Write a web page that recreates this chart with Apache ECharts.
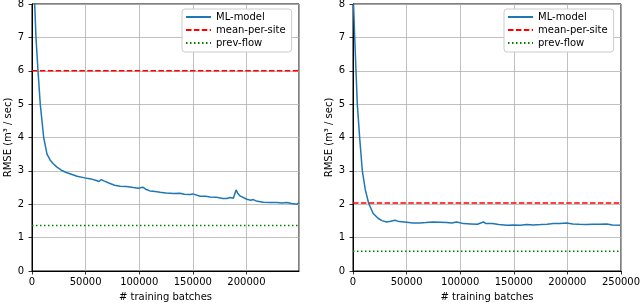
<!DOCTYPE html>
<html>
<head>
<meta charset="utf-8">
<script src="https://cdn.jsdelivr.net/npm/echarts@6/dist/echarts.min.js"></script>
<style>html,body{margin:0;padding:0;background:#fff}#c{width:640px;height:304px}</style>
</head>
<body>
<div id="c"></div>
<script>
// ---- data ----
const seriesNames = ['ML-model', 'mean-per-site', 'prev-flow'];
const yTicks = [0, 1, 2, 3, 4, 5, 6, 7, 8];
const xTickStep = 50000;
const leftXRange = [0, 249000];
const rightXRange = [0, 250000];

const leftSteps = [1000, 2500, 3700, 5600, 7700, 10900, 14000, 17000, 19600, 23000, 27300, 32000, 36700, 42000, 49200, 55000, 60000, 62500, 64600, 67000, 72800, 77000, 82100, 88000, 94500, 96000, 99200, 103300, 106000, 110000, 115000, 119400, 125000, 131800, 138000, 142000, 147400, 150000, 156700, 162000, 166000, 172000, 178000, 181600, 185000, 186300, 187800, 190300, 192000, 194000, 200300, 204000, 206400, 209000, 215700, 222000, 228300, 233000, 237600, 242000, 246900, 249000];
const leftRmse = [9.3, 8.0, 7.0, 6.0, 5.0, 4.0, 3.5, 3.32, 3.22, 3.12, 3.02, 2.95, 2.90, 2.84, 2.79, 2.76, 2.71, 2.68, 2.74, 2.70, 2.62, 2.57, 2.54, 2.53, 2.50, 2.54, 2.48, 2.51, 2.45, 2.40, 2.38, 2.36, 2.34, 2.32, 2.33, 2.30, 2.29, 2.31, 2.24, 2.24, 2.22, 2.21, 2.17, 2.17, 2.20, 2.25, 2.18, 2.43, 2.32, 2.25, 2.15, 2.12, 2.14, 2.10, 2.06, 2.05, 2.05, 2.04, 2.05, 2.02, 2.00, 2.04];
const leftMeanPerSite = 6.0;
const leftPrevFlow = 1.36;

const rightSteps = [500, 1600, 2800, 4000, 6200, 8700, 11500, 14600, 18700, 23300, 27000, 31400, 35000, 39200, 43000, 50000, 56000, 62500, 68000, 74900, 81000, 87400, 92000, 96700, 103000, 110000, 116000, 121600, 124000, 130000, 136000, 143400, 150000, 156000, 162000, 168000, 175000, 181000, 186900, 193000, 199300, 205000, 211000, 218000, 224000, 230000, 236700, 242000, 249100];
const rightRmse = [8.0, 7.0, 6.0, 5.0, 4.0, 3.0, 2.43, 2.03, 1.73, 1.58, 1.51, 1.47, 1.49, 1.52, 1.48, 1.46, 1.44, 1.44, 1.45, 1.47, 1.46, 1.45, 1.44, 1.47, 1.42, 1.41, 1.40, 1.47, 1.42, 1.42, 1.39, 1.37, 1.38, 1.37, 1.39, 1.38, 1.39, 1.40, 1.42, 1.42, 1.44, 1.41, 1.40, 1.39, 1.40, 1.40, 1.41, 1.38, 1.37];
const rightMeanPerSite = 2.04;
const rightPrevFlow = 0.59;

const xName = '# training batches';
const yName = 'RMSE (m³ / sec)';

// ---- styles ----
const FONT = 'DejaVu Sans';
const blue = '#1f77b4', red = '#ff0000', green = '#008000';
const zip = (xs, ys) => xs.map((x, i) => [x, ys[i]]);
const hline = (range, v) => [[range[0], v], [range[1], v]];

function makeX(idx, range, showMax) {
  return {
    type: 'value', gridIndex: idx, min: range[0], max: range[1], interval: xTickStep,
    name: xName, nameLocation: 'middle', nameGap: 21,
    nameTextStyle: { fontFamily: FONT, fontSize: 10, color: '#000' },
    axisLine: { show: true, onZero: false, lineStyle: { color: '#000', width: 1 } },
    axisTick: { show: true, length: 3.5, lineStyle: { color: '#000', width: 0.8 } },
    axisLabel: { fontFamily: FONT, fontSize: 10, color: '#000', margin: 6, showMaxLabel: showMax, showMinLabel: true,
      formatter: v => String(v) },
    splitLine: { show: true, lineStyle: { color: '#b0b0b0', width: 0.8 } }
  };
}
function makeY(idx) {
  return {
    type: 'value', gridIndex: idx, min: yTicks[0], max: yTicks[yTicks.length - 1], interval: yTicks[1] - yTicks[0],
    name: yName, nameLocation: 'middle', nameGap: 18, nameRotate: 90,
    nameTextStyle: { fontFamily: FONT, fontSize: 10, color: '#000' },
    axisLine: { show: true, onZero: false, lineStyle: { color: '#000', width: 1 } },
    axisTick: { show: true, length: 3.5, lineStyle: { color: '#000', width: 0.8 } },
    axisLabel: { fontFamily: FONT, fontSize: 10, color: '#000', margin: 8 },
    splitLine: { show: true, lineStyle: { color: '#b0b0b0', width: 0.8 } }
  };
}
function makeSeries(idx, steps, rmse, range, mean, prev) {
  return [
    { name: seriesNames[0], type: 'line', xAxisIndex: idx, yAxisIndex: idx, data: zip(steps, rmse),
      symbol: 'none', lineStyle: { color: blue, width: 1.5 }, itemStyle: { color: blue }, z: 5, animation: false },
    { name: seriesNames[1], type: 'line', xAxisIndex: idx, yAxisIndex: idx, data: hline(range, mean),
      symbol: 'none', lineStyle: { color: red, width: 1.5, type: [5.5, 2.4] }, itemStyle: { color: red }, z: 4, animation: false },
    { name: seriesNames[2], type: 'line', xAxisIndex: idx, yAxisIndex: idx, data: hline(range, prev),
      symbol: 'none', lineStyle: { color: green, width: 1.5, type: [1.5, 2.5] }, itemStyle: { color: green }, z: 4, animation: false }
  ];
}
function makeLegend(left) {
  return {
    left: left, top: 9, orient: 'vertical', data: seriesNames,
    backgroundColor: '#fff', borderColor: '#cccccc', borderWidth: 1, borderRadius: 3,
    padding: [3, 6, 4, 3], itemGap: 3, itemWidth: 25, itemHeight: 12,
    itemStyle: { opacity: 0, borderWidth: 0 },
    textStyle: { fontFamily: FONT, fontSize: 10, color: '#000' },
    selectedMode: false
  };
}

const chart = echarts.init(document.getElementById('c'), null, { renderer: 'canvas' });
chart.setOption({
  animation: false,
  backgroundColor: '#fff',
  grid: [
    { left: 32, top: 4, width: 267, height: 267, show: true, borderColor: '#000', borderWidth: 1, backgroundColor: 'transparent',
      containLabel: false, outerBoundsMode: 'none' },
    { left: 353, top: 4, width: 268, height: 267, show: true, borderColor: '#000', borderWidth: 1, backgroundColor: 'transparent',
      containLabel: false, outerBoundsMode: 'none' }
  ],
  xAxis: [makeX(0, leftXRange, false), makeX(1, rightXRange, true)],
  yAxis: [makeY(0), makeY(1)],
  legend: [makeLegend(182), makeLegend(504)],
  series: [].concat(
    makeSeries(0, leftSteps, leftRmse, leftXRange, leftMeanPerSite, leftPrevFlow),
    makeSeries(1, rightSteps, rightRmse, rightXRange, rightMeanPerSite, rightPrevFlow)
  )
});
</script>
</body>
</html>
